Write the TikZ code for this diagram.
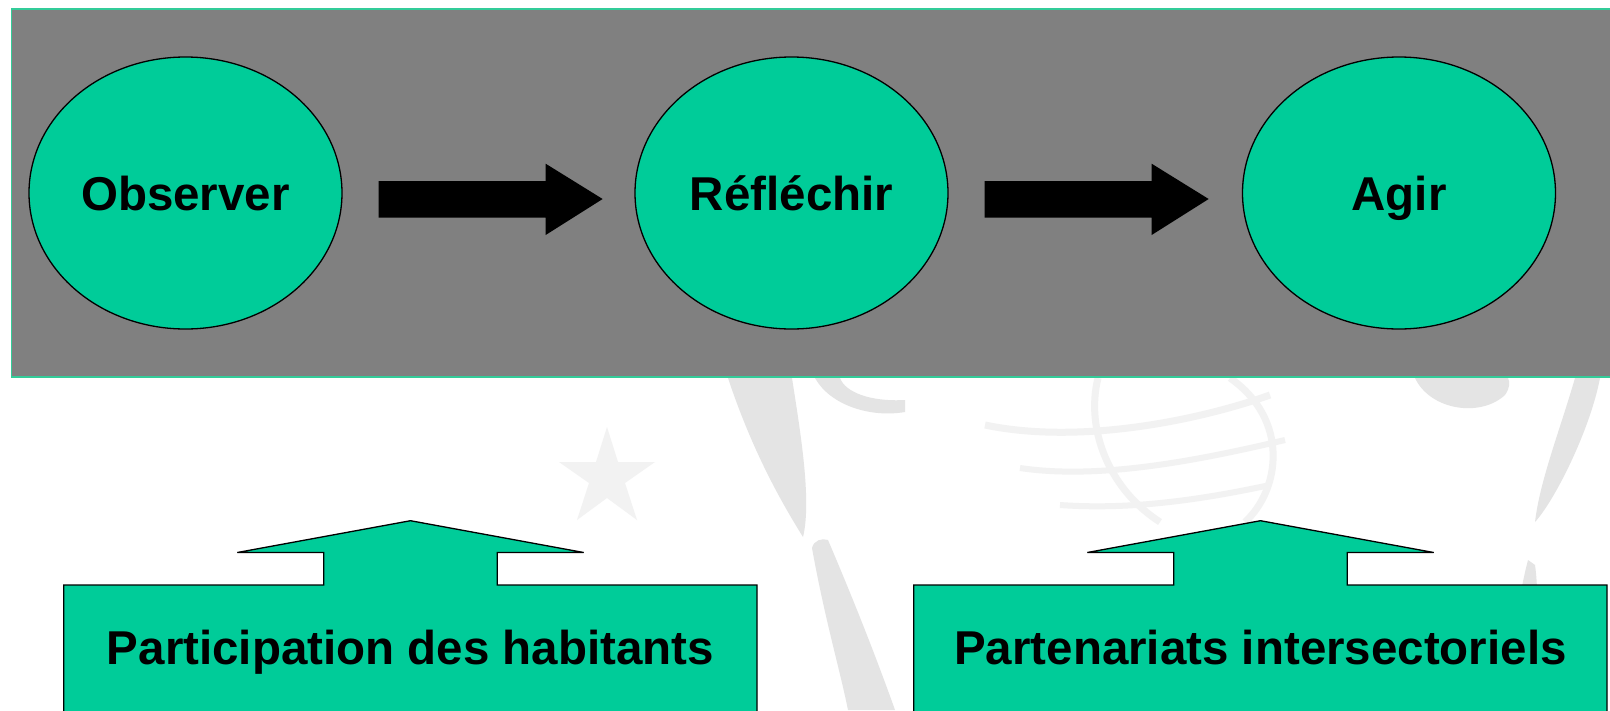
\documentclass[tikz,border=0pt]{standalone}
\usepackage{fontspec}
\setmainfont{Liberation Sans}
\usetikzlibrary{calc,shapes.geometric}
\definecolor{teal1}{RGB}{0,204,153}
\definecolor{tealline}{RGB}{51,204,153}
\definecolor{panel}{RGB}{128,128,128}
\definecolor{wm}{RGB}{228,228,228}
\definecolor{wmlight}{RGB}{242,242,242}
\tikzset{
  bubble/.style={ellipse, draw=black, line width=1.3pt, fill=teal1,
    minimum width=313pt, minimum height=272pt, inner sep=0pt,
    text height=34pt, text depth=0pt, font=\fontsize{47.5}{57}\selectfont\bfseries},
  blockarrow/.style={fill=black},
  callout/.style={draw=black, line width=1.3pt, fill=teal1, line join=miter},
  calltext/.style={anchor=base, inner sep=0pt, font=\fontsize{47.5}{57}\selectfont\bfseries},
  wmark/.style={fill=wm, draw=none},
  wmarkl/.style={fill=wmlight, draw=none}
}
\begin{document}
\begin{tikzpicture}[x=1pt,y=-1pt]
\useasboundingbox (0,0) rectangle (1610,710);
\fill[white] (0,0) rectangle (1610,710);
% faint watermark
\fill[wmarkl] (607,427) -- (618,462) -- (655,462) -- (625,483) -- (637,520) -- (607,498) -- (577,520) -- (589,483) -- (559,462) -- (596,462) -- cycle;
\fill[wmark] (728,378) .. controls (752,450) and (780,500) .. (803,537) .. controls (812,500) and (800,430) .. (792,378) -- cycle;
\fill[wmark] (815,378) .. controls (830,405) and (870,418) .. (905,412) -- (905,400) .. controls (870,402) and (845,392) .. (840,378) -- cycle;
\fill[wmark] (812,548) .. controls (825,620) and (840,670) .. (848,710) -- (895,710) .. controls (870,640) and (845,580) .. (828,540) .. controls (822,538) and (814,540) .. (812,548) -- cycle;
\draw[wmlight, line width=7pt] (1098,378) .. controls (1085,430) and (1110,490) .. (1160,522);
\draw[wmlight, line width=7pt] (1230,378) .. controls (1290,420) and (1280,490) .. (1245,522);
\draw[wmlight, line width=7pt] (985,425) .. controls (1080,445) and (1200,420) .. (1270,395);
\draw[wmlight, line width=6pt] (1020,468) .. controls (1100,480) and (1200,460) .. (1285,440);
\draw[wmlight, line width=6pt] (1060,505) .. controls (1130,510) and (1200,500) .. (1270,485);
\fill[wmark] (1415,378) .. controls (1430,410) and (1480,418) .. (1505,395) .. controls (1510,388) and (1510,382) .. (1508,378) -- cycle;
\fill[wmark] (1575,378) .. controls (1560,430) and (1540,480) .. (1535,522) .. controls (1555,500) and (1590,430) .. (1600,378) -- cycle;
\fill[wmark] (1528,560) .. controls (1515,610) and (1512,660) .. (1515,710) -- (1540,710) .. controls (1535,650) and (1540,600) .. (1535,565) -- cycle;
% grey panel
\draw[fill=panel, draw=tealline, line width=1.5pt] (11.3,9.2) rectangle (1616,377);
% bubbles
\node[bubble] (obs) at (185.5,193) {Observer};
\node[bubble] (ref) at (791.5,193) {Réfléchir};
\node[bubble] (agi) at (1399,193) {Agir};
% block arrows
\coordinate (a1) at ($(obs.east)+(36,-12)$);
\coordinate (a2) at ($(ref.east)+(36,-12)$);
\foreach \c in {a1,a2}{
  \fill[blockarrow] (\c) -- ++(167,0) -- ++(0,-17.3) -- ++(57,35.3) -- ++(-57,36) -- ++(0,-17.3) -- ++(-167,0) -- cycle;
}
% callouts
\node[calltext] (part) at (410.5,664) {\phantom{Participation des habitants}};
\node[calltext] (inter) at (1260.5,664) {\phantom{Partenariats intersectoriels}};
\foreach \n in {part,inter}{
  \coordinate (tip) at ($(\n.base)+(0,-143.3)$);
  \draw[callout] (tip) -- ++(173.2,31.8) -- ++(-86.4,0) -- ++(0,32.5) -- ++(259.7,0) -- ++(0,140) -- ++(-693.3,0) -- ++(0,-140) -- ++(260,0) -- ++(0,-32.5) -- ++(-86.4,0) -- cycle;
}
\node[calltext] at (part.base) {Participation des habitants};
\node[calltext] at (inter.base) {Partenariats intersectoriels};
\end{tikzpicture}
\end{document}
